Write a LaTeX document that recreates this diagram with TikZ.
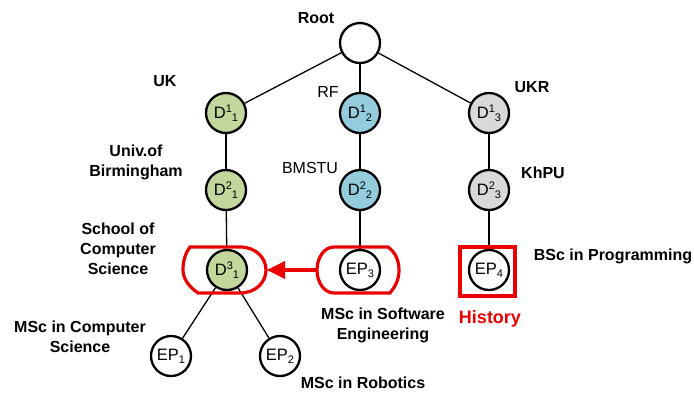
\documentclass[tikz,border=0pt]{standalone}
\usepackage{fontspec}
\setmainfont{Liberation Sans}
\usetikzlibrary{arrows.meta}
\definecolor{grn}{RGB}{195,214,155}
\definecolor{blu}{RGB}{147,205,221}
\definecolor{gry}{RGB}{217,217,217}
\definecolor{hl}{RGB}{235,0,0}
\newcommand{\smallidx}[1]{{\fontsize{11}{11}\selectfont #1}}
\newcommand{\Dn}[2]{D\raisebox{6pt}{\smallidx{#1}}\raisebox{-3pt}{\smallidx{#2}}}
\newcommand{\EPn}[1]{EP\raisebox{-3pt}{\smallidx{#1}}}
\tikzset{
  vert/.style={circle, draw=black, line width=2.3pt, minimum size=40pt, inner sep=0pt,
    font=\fontsize{16.5}{16.5}\selectfont},
  lbl/.style={font=\bfseries\fontsize{16}{20}\selectfont, align=center},
  plainlbl/.style={font=\fontsize{16}{20}\selectfont, align=center},
  edge/.style={line width=1.3pt},
  hlbox/.style={draw=hl, line width=3.2pt},
}
\begin{document}
\begin{tikzpicture}[x=1pt, y=-1pt]
\useasboundingbox (0,0) rectangle (694,392);

% tree vertices
\node[vert, fill=white] (root) at (360,43) {};
\node[vert, fill=grn] (d11) at (226,113) {\Dn{1}{1}};
\node[vert, fill=blu] (d12) at (360,113) {\Dn{1}{2}};
\node[vert, fill=gry] (d13) at (489,113) {\Dn{1}{3}};
\node[vert, fill=grn] (d21) at (226,190) {\Dn{2}{1}};
\node[vert, fill=blu] (d22) at (360,190) {\Dn{2}{2}};
\node[vert, fill=gry] (d23) at (489,190) {\Dn{2}{3}};
\node[vert, fill=grn] (d31) at (227,270) {\Dn{3}{1}};
\node[vert, fill=white] (ep3) at (360,270) {\EPn{3}};
\node[vert, fill=white] (ep4) at (489,270) {\EPn{4}};
\node[vert, fill=white] (ep1) at (171,356) {\EPn{1}};
\node[vert, fill=white] (ep2) at (280,356) {\EPn{2}};

% tree edges
\draw[edge] (root) -- (d11);
\draw[edge] (root) -- (d12);
\draw[edge] (root) -- (d13);
\draw[edge] (d11) -- (d21);
\draw[edge] (d21) -- (d31);
\draw[edge] (d12) -- (d22);
\draw[edge] (d22) -- (ep3);
\draw[edge] (d13) -- (d23);
\draw[edge] (d23) -- (ep4);
\draw[edge] (d31) -- (ep1);
\draw[edge] (d31) -- (ep2);

% highlight outlines
\draw[hlbox] (190,247) -- (240,247) .. controls (256,247) and (266,258) .. (266,270)
  .. controls (266,282) and (256,293) .. (240,293) -- (198,293)
  .. controls (188,286) and (183,278) .. (183,270)
  .. controls (183,260) and (186,252) .. (190,247) -- cycle;
\coordinate (d31tip) at (267,270);
\draw[hlbox] (334,247) -- (388,247) .. controls (395,252) and (399,260) .. (399,270)
  .. controls (399,280) and (395,287) .. (390,293) -- (334,293)
  .. controls (324,293) and (317,282) .. (317,270)
  .. controls (317,258) and (324,247) .. (334,247) -- cycle;
\coordinate (ep3tip) at (317,270);
\draw[hlbox, line width=3.6pt, -{Triangle[length=18pt, width=17pt]}] (ep3tip) -- (d31tip);
\node[hlbox, minimum width=55pt, minimum height=49pt, inner sep=0pt] (histbox) at (487.5,271.5) {};

% labels
\node[lbl] (lroot) at (316,18) {Root};
\node[lbl] (luk) at (165,81) {UK};
\node[plainlbl] (lrf) at (328,92) {RF};
\node[lbl] (lukr) at (532,87) {UKR};
\node[lbl] (luob) at (136,162) {Univ.of\\Birmingham};
\node[plainlbl] (lbmstu) at (310,168) {BMSTU};
\node[lbl] (lkhpu) at (543,173) {KhPU};
\node[lbl] (lscs) at (118,249) {School of\\Computer\\Science};
\node[lbl] (lbsc) at (613,256) {BSc in Programming};
\node[lbl] (lmse) at (383,325) {MSc in Software\\Engineering};
\node[lbl, text=hl, font=\bfseries\fontsize{18}{20}\selectfont] (lhist) at (490,319) {History};
\node[lbl] (lmcs) at (80,337) {MSc in Computer\\Science};
\node[lbl] (lmr) at (363,383) {MSc in Robotics};
\end{tikzpicture}
\end{document}
